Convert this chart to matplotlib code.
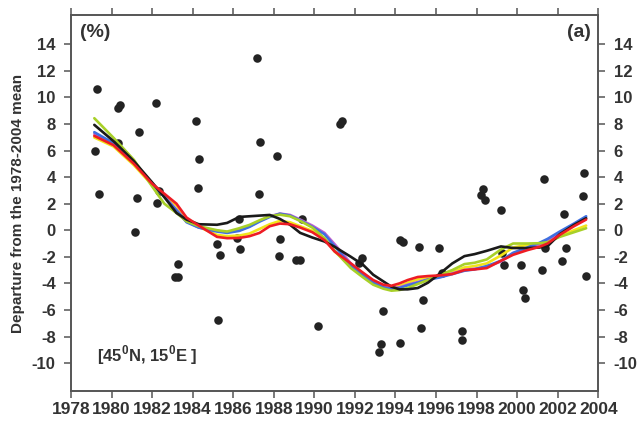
import matplotlib
matplotlib.use("Agg")
import matplotlib.pyplot as plt

plt.rcParams['font.family'] = ['Liberation Sans', 'DejaVu Sans']
plt.rcParams['mathtext.fontset'] = 'custom'
plt.rcParams['mathtext.rm'] = 'Liberation Sans:bold'
plt.rcParams['mathtext.bf'] = 'Liberation Sans:bold'

# ---- scatter data (annual departures, %) ----
point_years = [1979.28, 1980.30, 1980.40, 1982.19, 1984.18, 1981.35, 1980.30, 1979.18,
               1984.33, 1984.25, 1979.38, 1981.27, 1982.36, 1982.24, 1981.17, 1983.26,
               1983.15, 1983.30, 1987.19, 1987.34, 1988.18, 1987.26, 1986.27, 1985.19,
               1985.35, 1986.18, 1986.35, 1988.30, 1988.24, 1989.10, 1989.28, 1989.38,
               1985.27, 1990.17, 1991.27, 1991.37, 1994.20, 1994.35, 1995.18, 1996.17,
               1992.33, 1992.20, 1995.38, 1993.36, 1995.27, 1994.20, 1993.28, 1993.17,
               1997.27, 1997.30, 1998.31, 1998.20, 1998.42, 2001.30, 2003.31, 2003.25,
               1999.21, 2002.32, 1999.25, 1999.36, 2000.20, 2001.22, 2002.20, 2002.39,
               2001.38, 2000.27, 2000.38, 2003.37, 1996.30]
point_values = [10.6, 9.2, 9.4, 9.56, 8.23, 7.38, 6.55, 5.93,
                5.37, 3.2, 2.69, 2.39, 2.92, 2.08, -0.17, -2.54,
                -3.55, -3.5, 12.99, 6.63, 5.6, 2.74, 0.86, -1.04,
                -1.84, -0.59, -1.44, -0.64, -1.97, -2.27, -2.27, 0.86,
                -6.78, -7.23, 7.98, 8.25, -0.7, -0.9, -1.29, -1.34,
                -2.1, -2.47, -5.25, -6.05, -7.33, -8.48, -8.56, -9.16,
                -7.58, -8.23, 3.12, 2.67, 2.29, 3.87, 4.3, 2.54,
                1.54, 1.24, -1.71, -2.65, -2.65, -2.97, -2.29, -1.37,
                -1.34, -4.53, -5.08, -3.42, -3.2]

# ---- smoothed curves ----
curve_years = [1979.15, 1980.1, 1981.1, 1982.0, 1982.6, 1983.2, 1983.7, 1984.3, 1985.2,
               1985.7, 1986.3, 1986.8, 1987.3, 1987.8, 1988.3, 1988.8, 1989.3, 1989.9,
               1990.5, 1991.0, 1991.8, 1992.4, 1992.9, 1993.4, 1993.8, 1994.2, 1994.6,
               1995.1, 1995.6, 1996.2, 1996.8, 1997.4, 1997.9, 1998.5, 1999.2, 1999.8,
               2000.5, 2001.1, 2001.5, 2002.1, 2002.8, 2003.4]
black_curve = [7.93, 6.7, 5.2, 3.6, 2.5, 1.3, 0.8, 0.45, 0.41,
               0.55, 1.0, 1.05, 1.1, 1.15, 0.85, 0.41, -0.2, -0.55,
               -0.85, -1.25, -2.0, -2.6, -3.35, -3.85, -4.25, -4.45, -4.45,
               -4.35, -3.95, -3.25, -2.5, -1.95, -1.8, -1.55, -1.22, -1.34,
               -1.34, -1.3, -1.2, -0.3, 0.4, 0.9]
green_curve = [8.43, 6.95, 5.3, 3.3, 2.0, 1.3, 0.67, 0.3, 0.0,
               -0.1, 0.15, 0.4, 0.75, 1.05, 1.17, 1.05, 0.7, 0.2,
               -0.6, -1.55, -2.85, -3.55, -4.1, -4.4, -4.55, -4.5, -4.35,
               -4.05, -3.75, -3.35, -3.0, -2.55, -2.45, -2.2, -1.45, -1.0,
               -1.0, -0.98, -0.9, -0.5, -0.15, 0.15]
blue_curve = [7.38, 6.55, 5.1, 3.5, 2.5, 1.5, 0.6, 0.2, -0.1,
              -0.2, -0.05, 0.25, 0.65, 1.0, 1.24, 1.1, 0.74, 0.25,
              -0.3, -1.2, -2.65, -3.4, -3.95, -4.3, -4.42, -4.35, -4.15,
              -3.95, -3.72, -3.55, -3.3, -3.05, -2.95, -2.7, -2.3, -1.7,
              -1.3, -0.95, -0.65, -0.1, 0.5, 1.05]
purple_curve = [7.25, 6.5, 5.1, 3.55, 2.55, 1.55, 0.65, 0.2, -0.05,
                -0.15, 0.0, 0.3, 0.7, 1.05, 1.25, 1.15, 0.8, 0.35,
                -0.2, -1.05, -2.5, -3.3, -3.85, -4.2, -4.35, -4.3, -4.1,
                -3.9, -3.7, -3.5, -3.25, -3.0, -2.9, -2.75, -2.35, -1.75,
                -1.4, -1.05, -0.8, -0.2, 0.4, 0.9]
red_curve = [7.1, 6.4, 5.0, 3.5, 2.75, 2.0, 0.95, 0.35, -0.5,
             -0.6, -0.58, -0.45, -0.2, 0.3, 0.5, 0.45, 0.2, -0.15,
             -0.75, -1.6, -2.5, -3.2, -3.75, -4.1, -4.18, -4.0, -3.75,
             -3.52, -3.45, -3.4, -3.3, -3.0, -2.95, -2.85, -2.3, -1.85,
             -1.5, -1.25, -1.0, -0.35, 0.3, 0.8]
yellow_curve = [6.98, 6.3, 4.9, 3.4, 2.6, 1.85, 0.85, 0.25, -0.35,
                -0.45, -0.4, -0.25, 0.1, 0.45, 0.7, 0.6, 0.3, -0.05,
                -0.65, -1.6, -2.7, -3.4, -3.9, -4.25, -4.35, -4.2, -3.95,
                -3.7, -3.55, -3.4, -3.15, -2.8, -2.7, -2.5, -1.9, -1.3,
                -1.1, -1.05, -0.95, -0.45, 0.0, 0.35]

xticks = list(range(1978, 2005, 2))
yticks = list(range(-10, 15, 2))

fig = plt.figure(figsize=(6.39, 4.21), dpi=100)
ax = fig.add_axes([0.1111, 0.0713, 0.8252, 0.8931])

ax.scatter(point_years, point_values, s=38, color='#232323', zorder=2, linewidths=0)

for vals, col in [(yellow_curve, '#f2e41a'), (purple_curve, '#c25fd0'),
                  (blue_curve, '#3f6fe0'), (green_curve, '#a8d028'),
                  (black_curve, '#1a1a1a'), (red_curve, '#ee1c24')]:
    ax.plot(curve_years, vals, color=col, lw=1.9, zorder=3, solid_capstyle='round')

ax.set_xlim(1978, 2004)
ax.set_ylim(-12.1, 16.2)
ax.set_xticks(xticks)
ax.set_yticks(yticks)
ax.set_xticklabels([str(t) for t in xticks], fontsize=12.5, fontweight='bold', color='#333333')
ax.set_yticklabels([str(t) for t in yticks], fontsize=12, fontweight='bold', color='#333333')
ax.tick_params(axis='both', direction='out', length=5, width=1.1, color='#555555',
               top=True, right=True, labelright=True, pad=3)
ax.tick_params(axis='y', pad=6)
for sp in ax.spines.values():
    sp.set_linewidth(1.4)
    sp.set_color('#555555')

ax.set_ylabel('Departure from the 1978-2004 mean', fontsize=11, fontweight='bold',
              color='#333333', labelpad=5)

ax.text(0.017, 0.975, '(%)', transform=ax.transAxes, fontsize=14, fontweight='bold',
        color='#333333', ha='left', va='top')
ax.text(0.985, 0.975, '(a)', transform=ax.transAxes, fontsize=14, fontweight='bold',
        color='#333333', ha='right', va='top')
ax.text(0.05, 0.095, r'[45$^{0}$N, 15$^{0}$E ]', transform=ax.transAxes, fontsize=12,
        fontweight='bold', color='#333333', ha='left', va='center')

fig.savefig('out.png', dpi=100)
